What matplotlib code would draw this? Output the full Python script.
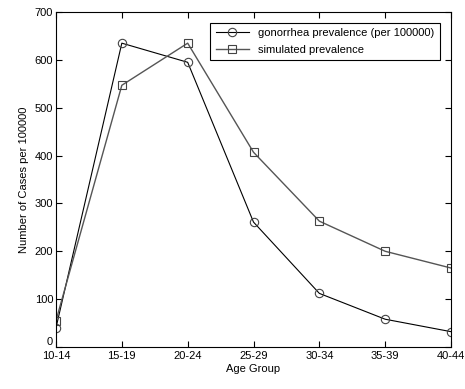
import matplotlib
matplotlib.use("Agg")
import matplotlib.pyplot as plt
import numpy as np

# data
age_groups = ["10-14", "15-19", "20-24", "25-29", "30-34", "35-39", "40-44"]
gonorrhea = [40, 635, 595, 261, 112, 58, 32]
simulated = [55, 547, 635, 407, 263, 200, 165]

plt.rcParams["font.family"] = ["Liberation Sans", "DejaVu Sans"]
plt.rcParams["font.size"] = 8

fig = plt.figure(figsize=(4.65, 3.89), dpi=100)
ax = fig.add_axes([0.1204, 0.108, 0.8496, 0.861])

x = np.arange(len(age_groups))
ax.plot(x, gonorrhea, color="black", linewidth=0.8, marker="o", markersize=6,
        markerfacecolor="none", markeredgecolor="#444444", markeredgewidth=0.8,
        label="gonorrhea prevalence (per 100000)")
ax.plot(x, simulated, color="#555555", linewidth=1.0, marker="s", markersize=6,
        markerfacecolor="none", markeredgecolor="#444444", markeredgewidth=0.8,
        label="simulated prevalence")

ax.set_xlim(0, len(age_groups) - 1)
ax.set_ylim(0, 700)
ax.set_xticks(x)
ax.set_xticklabels(age_groups)
ax.set_yticks(np.arange(0, 701, 100))
ax.tick_params(direction="in", top=True, right=True, length=4, width=0.8, labelsize=8)
ax.tick_params(axis="x", pad=3)
ax.tick_params(axis="y", pad=2)
for s in ax.spines.values():
    s.set_linewidth(0.8)

# the "0" sits just above the x axis, as in the original
ax.get_yticklabels()[0].set_verticalalignment("bottom")

ax.set_xlabel("Age Group", fontsize=8, labelpad=2)
ax.set_ylabel("Number of Cases per 100000", fontsize=8, labelpad=4)

leg = ax.legend(loc="upper right", fontsize=8, fancybox=False, framealpha=1,
                edgecolor="black", handlelength=3, borderpad=0.5,
                labelspacing=0.6, bbox_to_anchor=(0.985, 0.985))
leg.get_frame().set_linewidth(0.8)

fig.savefig("out.png", dpi=100)
